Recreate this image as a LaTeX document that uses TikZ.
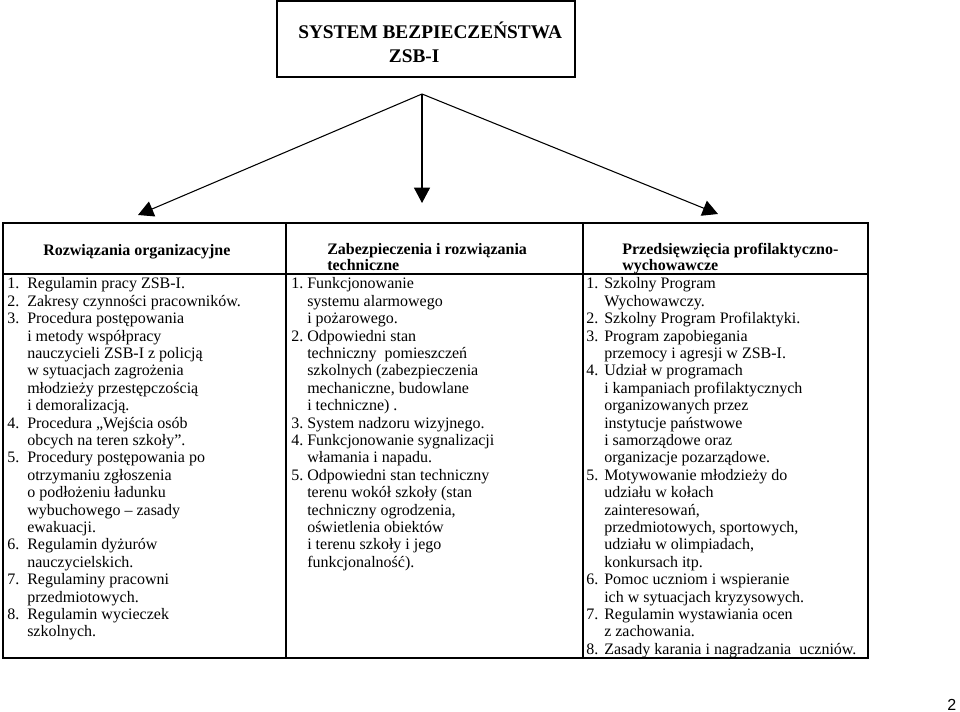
\documentclass[tikz,border=0pt]{standalone}
\usepackage{fontspec}
\setmainfont{Liberation Serif}
\newfontfamily\pagefont{Liberation Sans}
\usepackage{tikz}
\usetikzlibrary{arrows.meta}
\newcommand\punkty[2]{\begin{tabular}[t]{@{}p{#1}@{}l@{}}#2\end{tabular}}
\newcommand\wiersze[1]{\begin{tabular}[t]{@{}l@{}}#1\end{tabular}}

\begin{document}
\begin{tikzpicture}[x=0.75pt,y=-0.75pt,
  frame/.style={line width=0.9pt},
  branch/.style={-{Triangle[length=11.5pt,width=12pt]},line width=0.8pt},
  titletext/.style={anchor=base west,inner sep=0pt,font=\bfseries\fontsize{14.5}{18}\selectfont},
  colhead/.style={anchor=base west,inner sep=0pt,font=\bfseries\fontsize{12}{12.3}\selectfont},
  collist/.style={anchor=base west,inner sep=0pt,font=\fontsize{12}{13.05}\selectfont}]
\useasboundingbox (0,0) rectangle (960,712);
\draw[frame](277,1)rectangle(575,77);
\node[titletext](title)at(298,39){\wiersze{SYSTEM BEZPIECZEŃSTWA\\\hspace*{68pt}ZSB-I}};
\coordinate(apex)at(422,94);
\coordinate(orgtip)at(138,215);
\coordinate(techtip)at(422,203);
\coordinate(proftip)at(718,214);
\draw[branch](apex)--(orgtip);
\draw[branch](apex)--(techtip);
\draw[branch](apex)--(proftip);
\draw[frame](3,223)rectangle(868,658);
\draw[frame](3,274)--(868,274)(286,223)--(286,658)(583,223)--(583,658);
\node[colhead](orghead)at(43,256){Rozwiązania organizacyjne};
\node[colhead](techhead)at(327,254.5){\wiersze{Zabezpieczenia i rozwiązania\\techniczne}};
\node[colhead](profhead)at(622,254.5){\wiersze{Przedsięwzięcia profilaktyczno-\\wychowawcze}};
\node[collist](orglist)at(7,289){\punkty{15pt}{
1.&Regulamin pracy ZSB-I.\\
2.&Zakresy czynności pracowników.\\
3.&Procedura postępowania\\
&i metody współpracy\\
&nauczycieli ZSB-I z policją\\
&w sytuacjach zagrożenia\\
&młodzieży przestępczością\\
&i demoralizacją.\\
4.&Procedura „Wejścia osób\\
&obcych na teren szkoły”.\\
5.&Procedury postępowania po\\
&otrzymaniu zgłoszenia\\
&o podłożeniu ładunku\\
&wybuchowego – zasady\\
&ewakuacji.\\
6.&Regulamin dyżurów\\
&nauczycielskich.\\
7.&Regulaminy pracowni\\
&przedmiotowych.\\
8.&Regulamin wycieczek\\
&szkolnych.}};
\node[collist](techlist)at(291,289){\punkty{12pt}{
1.&Funkcjonowanie\\
&systemu alarmowego\\
&i pożarowego.\\
2.&Odpowiedni stan\\
&techniczny\ \ pomieszczeń\\
&szkolnych (zabezpieczenia\\
&mechaniczne, budowlane\\
&i techniczne) .\\
3.&System nadzoru wizyjnego.\\
4.&Funkcjonowanie sygnalizacji\\
&włamania i napadu.\\
5.&Odpowiedni stan techniczny\\
&terenu wokół szkoły (stan\\
&techniczny ogrodzenia,\\
&oświetlenia obiektów\\
&i terenu szkoły i jego\\
&funkcjonalność).}};
\node[collist](proflist)at(586,289){\punkty{13.5pt}{
1.&Szkolny Program\\
&Wychowawczy.\\
2.&Szkolny Program Profilaktyki.\\
3.&Program zapobiegania\\
&przemocy i agresji w ZSB-I.\\
4.&Udział w programach\\
&i kampaniach profilaktycznych\\
&organizowanych przez\\
&instytucje państwowe\\
&i samorządowe oraz\\
&organizacje pozarządowe.\\
5.&Motywowanie młodzieży do\\
&udziału w kołach\\
&zainteresowań,\\
&przedmiotowych, sportowych,\\
&udziału w olimpiadach,\\
&konkursach itp.\\
6.&Pomoc uczniom i wspieranie\\
&ich w sytuacjach kryzysowych.\\
7.&Regulamin wystawiania ocen\\
&z zachowania.\\
8.&Zasady karania i nagradzania\ \ uczniów.}};
\node[anchor=base west,inner sep=0pt,font=\pagefont\fontsize{12}{14}\selectfont](pagenum)at(947,710){2};
\end{tikzpicture}
\end{document}
